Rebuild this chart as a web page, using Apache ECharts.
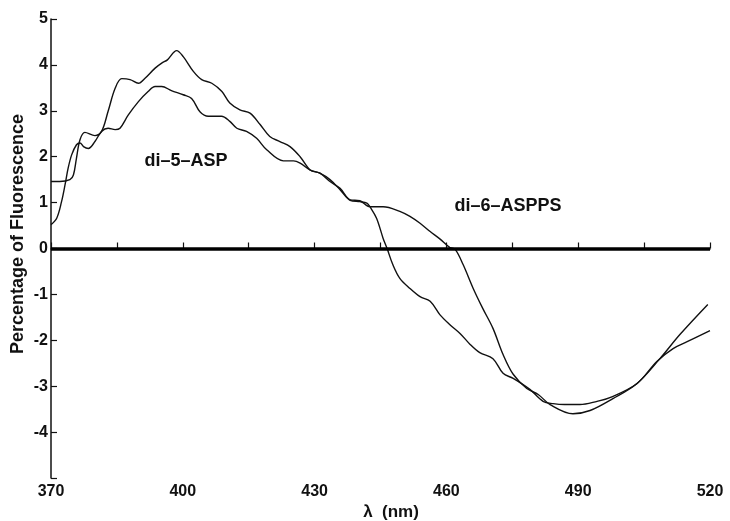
<!DOCTYPE html>
<html>
<head>
<meta charset="utf-8">
<script src="https://cdn.jsdelivr.net/npm/echarts@6/dist/echarts.min.js"></script>
<style>html,body{margin:0;padding:0;background:#fff;}#c{width:730px;height:521px;}</style>
</head>
<body>
<div id="c"></div>
<script>
// Wavelength (nm) vs percentage of fluorescence
const di5Data = [
  [370,0.52],[371.3,0.66],[372.4,1.02],[373.2,1.39],[373.9,1.75],[374.7,2.04],[375.8,2.26],[376.6,2.3],
  [377.4,2.22],[378.5,2.18],[380.0,2.33],[381.5,2.55],[383.0,2.62],[384.6,2.59],[385.7,2.62],[387.6,2.91],
  [389.9,3.2],[392.1,3.42],[393.7,3.53],[395.2,3.53],[397.4,3.44],[400.1,3.35],[402.0,3.27],[403.9,2.98],
  [405.8,2.88],[408.8,2.88],[410.7,2.77],[412.3,2.62],[414.5,2.55],[416.8,2.4],[419.1,2.15],[422.9,1.91],
  [425.2,1.91],[426.7,1.86],[429.0,1.71],[431.2,1.64],[433.5,1.5],
  [435.8,1.28],[438.1,1.05],[440.3,1.02],[441.9,0.99],[442.6,0.91],[444.1,0.66],[445.6,0.22],[446.5,0],
  [447.8,-0.35],[449.4,-0.65],[451.7,-0.87],[454.0,-1.05],[456.3,-1.15],[458.5,-1.44],[460.8,-1.66],
  [463.1,-1.85],[465.4,-2.09],[467.6,-2.27],[470.6,-2.4],[472.9,-2.72],[475.2,-2.83],[479.0,-3.07],
  [482.0,-3.33],[484.3,-3.38],[486.9,-3.4],[490.4,-3.4],[494.3,-3.33],[497.2,-3.25],[503.4,-2.94],
  [507.9,-2.46],[511.6,-2.18],[514.8,-2.03],[520,-1.79]
];
const di6Data = [
  [370,1.46],[372,1.46],[374.3,1.5],[375.1,1.6],[375.8,1.97],[376.6,2.37],[377.7,2.53],[380.0,2.46],
  [381.5,2.55],[383.0,2.99],[384.6,3.49],[386.1,3.7],[388.0,3.68],[389.9,3.6],[391.4,3.71],[393.7,3.93],
  [395.2,4.04],[396.5,4.11],[398.6,4.31],[400.1,4.18],[402.4,3.86],[404.3,3.68],[406.6,3.6],[408.9,3.42],
  [410.7,3.17],[413.0,3.02],[415.3,2.95],[417.6,2.7],[419.8,2.44],[422.1,2.33],[424.4,2.22],[426.7,2.0],
  [429.0,1.71],[431.2,1.64],[433.5,1.46],[435.8,1.31],
  [438.1,1.06],[440.3,1.04],[442.6,0.91],[445.6,0.91],[449.4,0.81],[451.7,0.7],[454.0,0.55],[456.3,0.37],
  [458.5,0.21],[460.8,0.02],[462.0,-0.02],[463.8,-0.35],[466.1,-0.87],[468.3,-1.31],[470.6,-1.74],
  [472.9,-2.31],[475.2,-2.74],[478.3,-3.05],[480.9,-3.18],[483.6,-3.4],[488.8,-3.6],[492.7,-3.53],
  [497.9,-3.27],[503.4,-2.94],[508.6,-2.4],[513.2,-1.87],[519.5,-1.22]
];
const xLabels = [370, 400, 430, 460, 490, 520];
const yLabels = [-4, -3, -2, -1, 0, 1, 2, 3, 4, 5];
const seriesNames = ['di–5–ASP', 'di–6–ASPPS'];

const FONT = '"Liberation Sans", Arial, Helvetica, sans-serif';
const chart = echarts.init(document.getElementById('c'), null, {renderer: 'canvas'});
chart.setOption({
  animation: false,
  backgroundColor: '#fff',
  grid: {left: 51, right: 20, top: 19, bottom: 43},
  xAxis: {
    type: 'value', min: 370, max: 520, interval: 15,
    axisLine: {show: true, lineStyle: {color: '#111', width: 1.5}},
    axisTick: {show: true, inside: true, length: 6, lineStyle: {color: '#111', width: 1.2}},
    splitLine: {show: false},
    axisLabel: {
      color: '#111', fontWeight: 'bold', fontSize: 16, fontFamily: FONT, margin: 6,
      formatter: v => xLabels.indexOf(Math.round(v)) >= 0 ? String(Math.round(v)) : ''
    }
  },
  yAxis: {
    type: 'value', min: -5, max: 5, interval: 1,
    axisLine: {show: true, lineStyle: {color: '#111', width: 1.5}},
    axisTick: {show: true, inside: true, length: 6, lineStyle: {color: '#111', width: 1.2}},
    splitLine: {show: false},
    axisLabel: {
      color: '#111', fontWeight: 'bold', fontSize: 16, fontFamily: FONT, margin: 3,
      formatter: v => yLabels.indexOf(Math.round(v)) >= 0 ? String(Math.round(v)) : ''
    }
  },
  series: [
    {
      name: seriesNames[0], type: 'line', data: di5Data, smooth: 0.35, symbol: 'none',
      lineStyle: {color: '#111', width: 1.4},
      markLine: {
        silent: true, symbol: 'none', label: {show: false},
        lineStyle: {color: '#000', width: 3.5, type: 'solid'},
        data: [{yAxis: 0}]
      }
    },
    {
      name: seriesNames[1], type: 'line', data: di6Data, smooth: 0.35, symbol: 'none',
      lineStyle: {color: '#111', width: 1.4}
    }
  ],
  graphic: [
    {type: 'text', x: 186, y: 161, style: {text: seriesNames[0], font: 'bold 18px ' + FONT, fill: '#111',
      textAlign: 'center', textVerticalAlign: 'middle', align: 'center', verticalAlign: 'middle'}},
    {type: 'text', x: 508, y: 206, style: {text: seriesNames[1], font: 'bold 18px ' + FONT, fill: '#111',
      textAlign: 'center', textVerticalAlign: 'middle', align: 'center', verticalAlign: 'middle'}},
    {type: 'text', x: 18, y: 234, rotation: Math.PI / 2, style: {text: 'Percentage of Fluorescence', font: 'bold 18px ' + FONT, fill: '#111',
      textAlign: 'center', textVerticalAlign: 'middle', align: 'center', verticalAlign: 'middle'}},
    {type: 'text', x: 391, y: 512, style: {text: 'λ  (nm)', font: 'bold 17px ' + FONT, fill: '#111',
      textAlign: 'center', textVerticalAlign: 'middle', align: 'center', verticalAlign: 'middle'}}
  ]
});
</script>
</body>
</html>
